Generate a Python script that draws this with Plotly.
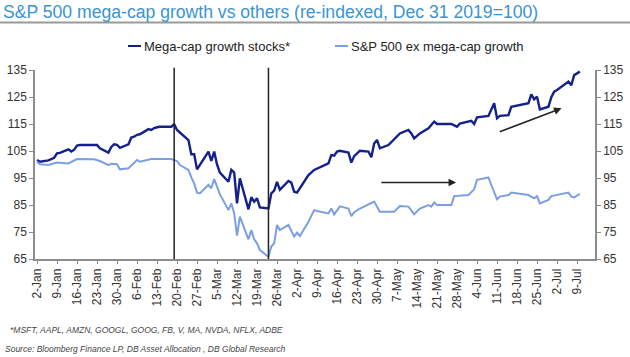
import plotly.graph_objects as go

# ---------------- data ----------------
title_text = "S&P 500 mega-cap growth vs others (re-indexed, Dec 31 2019=100)"
series_names = ["Mega-cap growth stocks*", "S&P 500 ex mega-cap growth"]
footnote_text = "*MSFT, AAPL, AMZN, GOOGL, GOOG, FB, V, MA, NVDA, NFLX, ADBE"
source_text = "Source: Bloomberg Finance LP, DB Asset Allocation , DB Global Research"

mega_dates = [
    "2020-01-02", "2020-01-03", "2020-01-06", "2020-01-07", "2020-01-08", "2020-01-09",
    "2020-01-10", "2020-01-13", "2020-01-14", "2020-01-15", "2020-01-16", "2020-01-17",
    "2020-01-21", "2020-01-22", "2020-01-23", "2020-01-24", "2020-01-27", "2020-01-28",
    "2020-01-29", "2020-01-30", "2020-01-31", "2020-02-03", "2020-02-04", "2020-02-05",
    "2020-02-06", "2020-02-07", "2020-02-10", "2020-02-11", "2020-02-12", "2020-02-13",
    "2020-02-14", "2020-02-18", "2020-02-19", "2020-02-20", "2020-02-24", "2020-02-25",
    "2020-02-26", "2020-02-27", "2020-02-28", "2020-03-02", "2020-03-03", "2020-03-04",
    "2020-03-05", "2020-03-06", "2020-03-09", "2020-03-10", "2020-03-11", "2020-03-12",
    "2020-03-13", "2020-03-16", "2020-03-17", "2020-03-18", "2020-03-19", "2020-03-20",
    "2020-03-23", "2020-03-24", "2020-03-25", "2020-03-26", "2020-03-27", "2020-03-30",
    "2020-03-31", "2020-04-01", "2020-04-02", "2020-04-06", "2020-04-08", "2020-04-09",
    "2020-04-13", "2020-04-14", "2020-04-15", "2020-04-16", "2020-04-17", "2020-04-20",
    "2020-04-21", "2020-04-22", "2020-04-24", "2020-04-27", "2020-04-28", "2020-04-29",
    "2020-04-30", "2020-05-01", "2020-05-04", "2020-05-08", "2020-05-11", "2020-05-12",
    "2020-05-13", "2020-05-15", "2020-05-18", "2020-05-20", "2020-05-21", "2020-05-22",
    "2020-05-26", "2020-05-28", "2020-05-29", "2020-06-02", "2020-06-03", "2020-06-04",
    "2020-06-08", "2020-06-10", "2020-06-11", "2020-06-12", "2020-06-15", "2020-06-16",
    "2020-06-19", "2020-06-22", "2020-06-23", "2020-06-24", "2020-06-25", "2020-06-26",
    "2020-06-29", "2020-06-30", "2020-07-01", "2020-07-02", "2020-07-06", "2020-07-07",
    "2020-07-08", "2020-07-10",
]
mega_values = [
    101.7, 101.0, 101.5, 101.9, 102.5, 104.1,
    104.3, 105.6, 104.8, 105.5, 107.0, 107.2,
    107.2, 107.2, 107.2, 106.0, 104.4, 106.5,
    107.5, 107.3, 106.2, 107.5, 110.0, 110.3,
    111.0, 111.2, 113.1, 112.8, 113.5, 113.8,
    114.0, 114.0, 114.9, 112.8, 109.0, 103.8,
    103.8, 98.2, 99.8, 104.8, 101.3, 104.8,
    100.0, 97.0, 93.6, 98.0, 97.0, 85.6,
    94.9, 83.4, 87.9, 86.2, 87.5, 84.1,
    83.7, 89.3, 90.3, 93.6, 90.6, 93.9,
    93.3, 89.9, 89.6, 96.1, 98.0, 98.5,
    100.4, 103.5, 103.3, 104.8, 105.1, 104.4,
    100.7, 103.1, 105.1, 104.8, 102.7, 107.8,
    109.1, 106.0, 107.2, 111.5, 112.8, 111.5,
    109.7, 111.5, 113.4, 115.9, 115.0, 115.0,
    115.0, 114.0, 115.2, 116.2, 115.0, 117.5,
    118.0, 122.7, 117.1, 118.0, 118.3, 121.4,
    122.0, 122.7, 126.0, 124.1, 125.1, 120.4,
    121.4, 124.9, 127.0, 127.6, 130.7, 129.4,
    133.1, 134.4,
]

exmega_dates = [
    "2020-01-02", "2020-01-03", "2020-01-06", "2020-01-09", "2020-01-13", "2020-01-16",
    "2020-01-22", "2020-01-24", "2020-01-27", "2020-01-28", "2020-01-30", "2020-01-31",
    "2020-02-03", "2020-02-05", "2020-02-06", "2020-02-07", "2020-02-11", "2020-02-18",
    "2020-02-19", "2020-02-20", "2020-02-21", "2020-02-24", "2020-02-25", "2020-02-26",
    "2020-02-27", "2020-02-28", "2020-03-02", "2020-03-03", "2020-03-04", "2020-03-05",
    "2020-03-06", "2020-03-09", "2020-03-10", "2020-03-11", "2020-03-12", "2020-03-13",
    "2020-03-16", "2020-03-17", "2020-03-18", "2020-03-19", "2020-03-20", "2020-03-23",
    "2020-03-24", "2020-03-25", "2020-03-26", "2020-03-27", "2020-03-30", "2020-04-01",
    "2020-04-02", "2020-04-03", "2020-04-06", "2020-04-08", "2020-04-09", "2020-04-13",
    "2020-04-14", "2020-04-15", "2020-04-17", "2020-04-20", "2020-04-21", "2020-04-22",
    "2020-04-24", "2020-04-29", "2020-05-01", "2020-05-05", "2020-05-06", "2020-05-08",
    "2020-05-11", "2020-05-13", "2020-05-14", "2020-05-15", "2020-05-18", "2020-05-19",
    "2020-05-20", "2020-05-21", "2020-05-26", "2020-05-27", "2020-06-01", "2020-06-03",
    "2020-06-04", "2020-06-08", "2020-06-09", "2020-06-11", "2020-06-12", "2020-06-15",
    "2020-06-16", "2020-06-19", "2020-06-22", "2020-06-24", "2020-06-25", "2020-06-26",
    "2020-06-29", "2020-06-30", "2020-07-02", "2020-07-06", "2020-07-07", "2020-07-08",
    "2020-07-10",
]
exmega_values = [
    101.0, 100.1, 99.8, 100.7, 100.4, 102.0,
    101.9, 101.3, 99.8, 100.3, 100.1, 98.2,
    98.6, 100.8, 101.7, 101.0, 102.0, 102.0,
    101.7, 101.3, 99.8, 98.0, 95.2, 93.0,
    89.6, 89.3, 92.5, 91.2, 94.6, 91.6,
    89.0, 83.1, 85.6, 82.0, 73.7, 80.7,
    72.3, 75.7, 72.3, 70.8, 68.3, 65.8,
    69.6, 70.8, 77.6, 75.7, 77.6, 73.3,
    74.8, 73.5, 78.8, 83.1, 82.8, 81.9,
    83.7, 81.5, 84.5, 83.7, 80.9, 82.3,
    83.7, 86.3, 82.5, 82.5, 82.5, 84.6,
    84.4, 81.6, 82.5, 83.7, 85.0, 84.4,
    85.9, 85.0, 85.0, 88.3, 88.7, 90.8,
    94.3, 95.2, 92.4, 87.1, 88.1, 88.7,
    89.6, 89.1, 88.7, 87.5, 88.3, 85.6,
    86.9, 88.3, 88.7, 89.6, 88.1, 87.8,
    89.1,
]

y_ticks = [65, 75, 85, 95, 105, 115, 125, 135]
event_dates = ["2020-02-19", "2020-03-23"]  # peak and trough markers

# ---------------- layout geometry ----------------
W, H = 630, 357
L, R, T, B = 35, 35, 70, 98
PW, PH = W - L - R, H - T - B


def px(x):
    return (x - L) / PW


def py(y):
    return (H - B - y) / PH


DARK = "#14218A"
LIGHT = "#7C9FE3"
TXT = "#333333"
AXC = "#8c8c8c"
FONT = "Liberation Sans, Arial, sans-serif"

fig = go.Figure()
fig.add_trace(go.Scatter(x=exmega_dates, y=exmega_values, name=series_names[1],
                         mode="lines", line=dict(color=LIGHT, width=2), yaxis="y2"))
fig.add_trace(go.Scatter(x=mega_dates, y=mega_values, name=series_names[0],
                         mode="lines", line=dict(color=DARK, width=2.4)))

# vertical event lines
for d in event_dates:
    fig.add_shape(type="line", xref="x", yref="paper", x0=d, x1=d, y0=0, y1=1.012,
                  line=dict(color="#222222", width=1.5))

# arrows
fig.add_annotation(x="2020-05-27 16:00", y=93.3, ax="2020-05-01", ay=93.3,
                   xref="x", yref="y", axref="x", ayref="y", text="", showarrow=True,
                   arrowhead=2, arrowsize=1, arrowwidth=1.5, arrowcolor="#222222")
fig.add_annotation(x="2020-07-03 14:00", y=120.8, ax="2020-06-11 10:00", ay=111.9,
                   xref="x", yref="y", axref="x", ayref="y", text="", showarrow=True,
                   arrowhead=2, arrowsize=1, arrowwidth=1.5, arrowcolor="#222222")

# rule under title
fig.add_shape(type="line", xref="paper", yref="paper", x0=px(0), x1=px(W),
              y0=py(22.5), y1=py(22.5), line=dict(color="#9a9a9a", width=2))

# manual legend
legend_items = [(128, DARK, series_names[0]), (335, LIGHT, series_names[1])]
for x0, col, name in legend_items:
    fig.add_shape(type="line", xref="paper", yref="paper", x0=px(x0), x1=px(x0 + 13),
                  y0=py(46), y1=py(46), line=dict(color=col, width=2))
    fig.add_annotation(x=px(x0 + 14), y=py(46), xref="paper", yref="paper", text=name,
                       showarrow=False, xanchor="left", yanchor="middle",
                       font=dict(size=13, color="#222222", family=FONT))

# footnotes
fig.add_annotation(x=px(8), y=py(330), xref="paper", yref="paper", text=f"<i>{footnote_text}</i>",
                   showarrow=False, xanchor="left", yanchor="middle",
                   font=dict(size=8.5, color="#444444", family=FONT))
fig.add_annotation(x=px(3), y=py(349), xref="paper", yref="paper", text=f"<i>{source_text}</i>",
                   showarrow=False, xanchor="left", yanchor="middle",
                   font=dict(size=8.5, color="#444444", family=FONT))

yaxis_common = dict(range=[65, 135], tickvals=y_ticks, showgrid=False, zeroline=False,
                    showline=True, linecolor=AXC, linewidth=1.5, ticks="outside",
                    ticklen=4, tickcolor=AXC, automargin=False,
                    tickfont=dict(size=12, color=TXT, family=FONT))

fig.update_layout(
    width=W, height=H,
    margin=dict(l=L, r=R, t=T, b=B, autoexpand=False),
    paper_bgcolor="white", plot_bgcolor="white",
    showlegend=False,
    title=dict(text=title_text, x=3 / W, xanchor="left", xref="container",
               y=1 - 12 / H, yanchor="middle", automargin=False,
               font=dict(size=17.6, color="#3A94D3", family=FONT)),
    xaxis=dict(type="date", range=["2020-01-01 07:00", "2020-07-15 07:00"],
               tick0="2020-01-02", dtick=7 * 24 * 3600 * 1000, tickformat="%-d-%b",
               tickangle=-90, showgrid=False, zeroline=False, showline=True,
               linecolor=AXC, linewidth=1.5, ticks="outside", ticklen=3, tickcolor=AXC,
               automargin=False, tickfont=dict(size=12, color=TXT, family=FONT)),
    yaxis=dict(side="left", **yaxis_common),
    yaxis2=dict(side="right", overlaying="y", **yaxis_common),
)

fig.write_html("out.html", config={"displayModeBar": False},
               post_script="document.body.style.margin='0';document.body.style.overflow='hidden';")
